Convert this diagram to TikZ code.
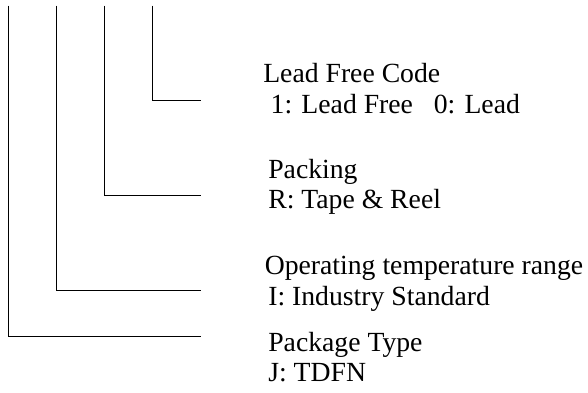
\documentclass[tikz,border=0pt]{standalone}
\usepackage{fontspec}
\setmainfont{Liberation Serif}
\begin{document}
\begin{tikzpicture}[x=1pt,y=-1pt,
  lead/.style={line width=1.3pt},
  lbl/.style={anchor=base west,inner sep=0pt,outer sep=0pt,font=\fontsize{27.7}{31}\selectfont}]
\useasboundingbox (0,0) rectangle (588,392);
% top ends of the four leads
\coordinate (t1) at (8.3,5.5);
\coordinate (t2) at (56.3,5.5);
\coordinate (t3) at (104.3,5.5);
\coordinate (t4) at (152.3,5.5);
% right ends
\coordinate (e4) at (200.5,100.3);
\coordinate (e3) at (200.5,195.7);
\coordinate (e2) at (200.5,290.3);
\coordinate (e1) at (200.5,336.7);
\draw[lead] (t4) |- (e4);
\draw[lead] (t3) |- (e3);
\draw[lead] (t2) |- (e2);
\draw[lead] (t1) |- (e1);
% labels
\node[lbl] (lfc) at (263.3,82.7) {Lead Free Code};
\node[lbl] (lfv) at (270.7,113.3) {1: Lead Free\ \ \ 0: Lead};
\node[lbl] (pk) at (268.3,178.3) {Packing};
\node[lbl] (pkv) at (268.3,208.3) {R: Tape \& Reel};
\node[lbl] (op) at (264.8,274) {Operating temperature range};
\node[lbl] (opv) at (268.3,305) {I: Industry Standard};
\node[lbl] (pt) at (268.3,351.7) {Package Type};
\node[lbl] (ptv) at (268.3,381.7) {J: TDFN};
\end{tikzpicture}
\end{document}
